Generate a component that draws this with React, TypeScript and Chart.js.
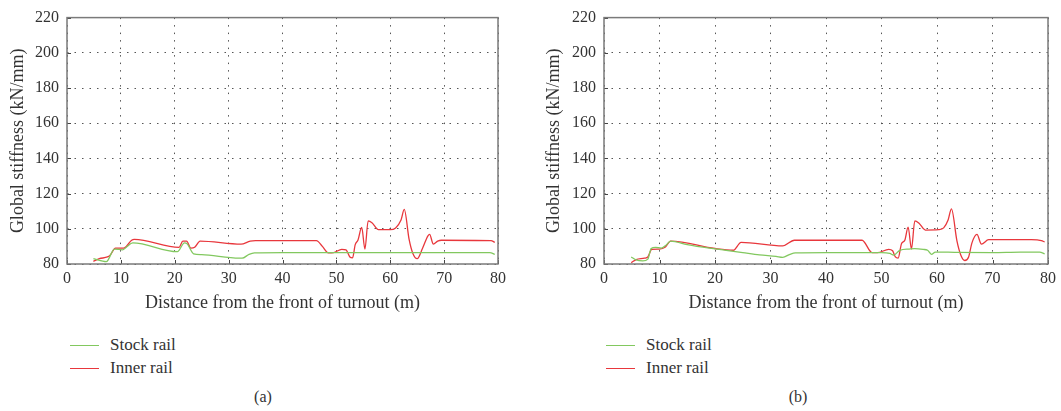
import React, { useEffect, useRef } from "react";
import { Chart, registerables } from "chart.js";

Chart.register(...registerables);

// ---------- data ----------
const xTicks = [0, 10, 20, 30, 40, 50, 60, 70, 80];
const yTicks = [80, 100, 120, 140, 160, 180, 200, 220];

// (a)
const stockXA = [4.9, 7.3, 8.8, 10.3, 11.0, 12.2, 20.5, 21.8, 22.3, 23.5, 25.0, 32.0, 32.5, 33.8, 34.8, 40.0, 78.5, 79.4];
const stockYA = [83.0, 81.3, 88.5, 88.0, 89.5, 92.0, 87.0, 92.0, 91.5, 85.8, 85.3, 83.3, 83.3, 85.5, 86.3, 86.5, 86.5, 85.5];
const innerXA = [4.9, 6.0, 7.5, 8.0, 9.0, 10.5, 11.0, 12.0, 12.5, 20.8, 21.5, 22.2, 23.0, 23.7, 24.7, 32.3, 34.0, 35.0, 46.3, 47.4, 48.5, 49.5, 51.0, 51.8, 52.5, 53.0, 53.5, 54.0, 54.7, 55.3, 55.9, 56.6, 57.8, 60.0, 61.0, 62.0, 62.6, 63.5, 64.2, 65.0, 66.0, 67.0, 67.3, 68.0, 68.8, 69.5, 78.7, 79.4];
const innerYA = [81.5, 83.0, 84.0, 85.0, 89.0, 89.0, 90.0, 93.5, 94.0, 89.5, 93.0, 93.0, 89.0, 89.5, 93.0, 91.3, 93.0, 93.3, 93.3, 90.0, 86.3, 86.5, 88.3, 88.0, 84.0, 83.5, 91.0, 93.5, 100.8, 88.5, 104.5, 103.5, 99.5, 99.5, 100.5, 105.0, 111.0, 94.0, 86.0, 83.0, 89.0, 96.0, 96.8, 91.3, 93.0, 93.5, 93.3, 92.3];

// (b)
const stockXB = [4.9, 5.8, 7.0, 7.9, 8.5, 9.3, 10.3, 11.1, 12.0, 15.0, 19.0, 22.0, 25.0, 28.0, 31.0, 32.2, 33.5, 34.5, 40.0, 50.0, 51.5, 52.2, 53.3, 55.0, 56.0, 57.5, 58.3, 59.0, 59.7, 62.0, 70.0, 75.0, 78.5, 79.4];
const stockYB = [84.0, 82.3, 81.8, 82.8, 88.8, 89.5, 89.0, 90.5, 93.0, 91.0, 89.0, 87.8, 86.5, 85.2, 84.3, 83.8, 85.5, 86.3, 86.5, 86.5, 86.0, 85.0, 87.8, 88.5, 88.7, 88.3, 87.8, 85.5, 86.8, 86.7, 86.5, 86.8, 86.7, 85.8];
const innerXB = [4.9, 5.8, 7.3, 7.9, 8.6, 10.0, 11.0, 12.0, 20.0, 23.3, 24.7, 32.2, 34.3, 46.5, 48.3, 49.3, 51.3, 52.0, 52.5, 53.0, 53.6, 54.2, 54.8, 55.4, 56.0, 56.8, 57.9, 60.3, 61.2, 62.0, 62.6, 63.6, 64.3, 65.0, 65.7, 66.3, 67.2, 68.0, 69.3, 77.0, 78.8, 79.4];
const innerYB = [80.8, 82.5, 83.3, 84.0, 88.3, 88.5, 89.5, 93.0, 88.8, 87.8, 92.3, 90.3, 93.5, 93.5, 86.5, 86.5, 88.3, 87.5, 84.0, 83.3, 91.5, 93.5, 101.0, 88.5, 104.5, 103.0, 99.3, 99.5, 100.5, 105.0, 111.3, 93.0, 85.0, 82.0, 84.0, 92.0, 96.8, 91.3, 93.8, 93.8, 93.3, 92.5];

const seriesNames = ["Stock rail", "Inner rail"];
const xTitle = "Distance from the front of turnout (m)";
const yTitle = "Global stiffness (kN/mm)";
const captions = ["(a)", "(b)"];

// ---------- styles ----------
const FONT = "'Liberation Serif', 'Times New Roman', serif";
const GREEN = "rgb(130,200,95)";
const RED = "rgb(232,55,60)";
const TEXT = "#333";

const zip = (xs: number[], ys: number[]) => xs.map((x, i) => ({ x, y: ys[i] }));

const framePlugin = {
  id: "frame",
  afterDraw(chart: any) {
    const { ctx, chartArea: a, scales } = chart;
    ctx.save();
    ctx.strokeStyle = "#444";
    ctx.lineWidth = 1;
    xTicks.forEach((v) => {
      const px = Math.round(scales.x.getPixelForValue(v)) + 0.5;
      ctx.beginPath();
      ctx.moveTo(px, a.bottom);
      ctx.lineTo(px, a.bottom - 4);
      ctx.stroke();
    });
    yTicks.forEach((v) => {
      const py = Math.round(scales.y.getPixelForValue(v)) + 0.5;
      ctx.beginPath();
      ctx.moveTo(a.left, py);
      ctx.lineTo(a.left + 4, py);
      ctx.stroke();
    });
    ctx.strokeStyle = "#7a7a7a";
    ctx.lineWidth = 1.5;
    ctx.strokeRect(a.left, a.top, a.right - a.left, a.bottom - a.top);
    ctx.restore();
  },
};

type PanelProps = {
  left: number;
  width: number;
  yAxisWidth: number;
  rightPad: number;
  yTitlePad: number;
  stock: { x: number; y: number }[];
  inner: { x: number; y: number }[];
};

function Panel(p: PanelProps) {
  const ref = useRef<HTMLCanvasElement | null>(null);
  useEffect(() => {
    if (!ref.current) return;
    const chart = new Chart(ref.current, {
      type: "line",
      data: {
        datasets: [
          {
            label: seriesNames[0],
            data: p.stock,
            borderColor: GREEN,
            borderWidth: 1.3,
            pointRadius: 0,
            cubicInterpolationMode: "monotone",
            fill: false,
          },
          {
            label: seriesNames[1],
            data: p.inner,
            borderColor: RED,
            borderWidth: 1.3,
            pointRadius: 0,
            cubicInterpolationMode: "monotone",
            fill: false,
          },
        ],
      },
      options: {
        animation: false,
        responsive: false,
        maintainAspectRatio: false,
        layout: { padding: { left: 0, right: p.rightPad, top: 14, bottom: 0 } },
        plugins: { legend: { display: false }, tooltip: { enabled: false } },
        scales: {
          x: {
            type: "linear",
            min: 0,
            max: 80,
            afterBuildTicks: (s: any) => {
              s.ticks = xTicks.map((v) => ({ value: v }));
            },
            afterFit: (s: any) => {
              s.height = 56;
            },
            ticks: { color: TEXT, font: { family: FONT, size: 16 }, padding: 5, maxRotation: 0, autoSkip: false },
            grid: { color: "#555", lineWidth: 1, drawTicks: false },
            border: { display: false, dash: [1.5, 6] },
            title: {
              display: true,
              text: xTitle,
              color: TEXT,
              font: { family: FONT, size: 18 },
              padding: { top: 0, bottom: 6 },
            },
          },
          y: {
            type: "linear",
            min: 80,
            max: 220,
            afterBuildTicks: (s: any) => {
              s.ticks = yTicks.map((v) => ({ value: v }));
            },
            afterFit: (s: any) => {
              s.width = p.yAxisWidth;
            },
            ticks: { color: TEXT, font: { family: FONT, size: 16 }, padding: 8 },
            grid: { color: "#555", lineWidth: 1, drawTicks: false },
            border: { display: false, dash: [1.5, 6] },
            title: {
              display: true,
              text: yTitle,
              color: TEXT,
              font: { family: FONT, size: 18 },
              padding: { top: p.yTitlePad, bottom: 0 },
            },
          },
        },
      } as any,
      plugins: [framePlugin],
    });
    return () => chart.destroy();
  }, []);
  return (
    <canvas
      ref={ref}
      width={p.width}
      height={320}
      style={{ position: "absolute", left: p.left, top: 0, width: p.width, height: 320 }}
    />
  );
}

function LegendItem(props: { left: number; top: number; color: string; label: string }) {
  return (
    <>
      <div
        style={{
          position: "absolute",
          left: props.left,
          top: props.top,
          width: 29,
          height: 0,
          borderTop: `1.5px solid ${props.color}`,
        }}
      />
      <div
        style={{
          position: "absolute",
          left: props.left + 40,
          top: props.top - 11,
          fontFamily: FONT,
          fontSize: 17,
          lineHeight: "22px",
          color: TEXT,
          whiteSpace: "nowrap",
        }}
      >
        {props.label}
      </div>
    </>
  );
}

function Caption(props: { cx: number; text: string }) {
  return (
    <div
      style={{
        position: "absolute",
        left: props.cx - 50,
        width: 100,
        top: 386,
        textAlign: "center",
        fontFamily: FONT,
        fontSize: 16,
        lineHeight: "22px",
        color: TEXT,
      }}
    >
      {props.text}
    </div>
  );
}

export default function App() {
  return (
    <div style={{ position: "absolute", left: 0, top: 0, width: 1061, height: 411, background: "#fff", overflow: "hidden" }}>
      <Panel left={0} width={530} yAxisWidth={67} rightPad={32} yTitlePad={7} stock={zip(stockXA, stockYA)} inner={zip(innerXA, innerYA)} />
      <Panel left={540} width={521} yAxisWidth={64} rightPad={12} yTitlePad={3} stock={zip(stockXB, stockYB)} inner={zip(innerXB, innerYB)} />
      <LegendItem left={70} top={345} color={GREEN} label={seriesNames[0]} />
      <LegendItem left={70} top={368} color={RED} label={seriesNames[1]} />
      <LegendItem left={606} top={345} color={GREEN} label={seriesNames[0]} />
      <LegendItem left={606} top={368} color={RED} label={seriesNames[1]} />
      <Caption cx={263} text={captions[0]} />
      <Caption cx={798} text={captions[1]} />
    </div>
  );
}
